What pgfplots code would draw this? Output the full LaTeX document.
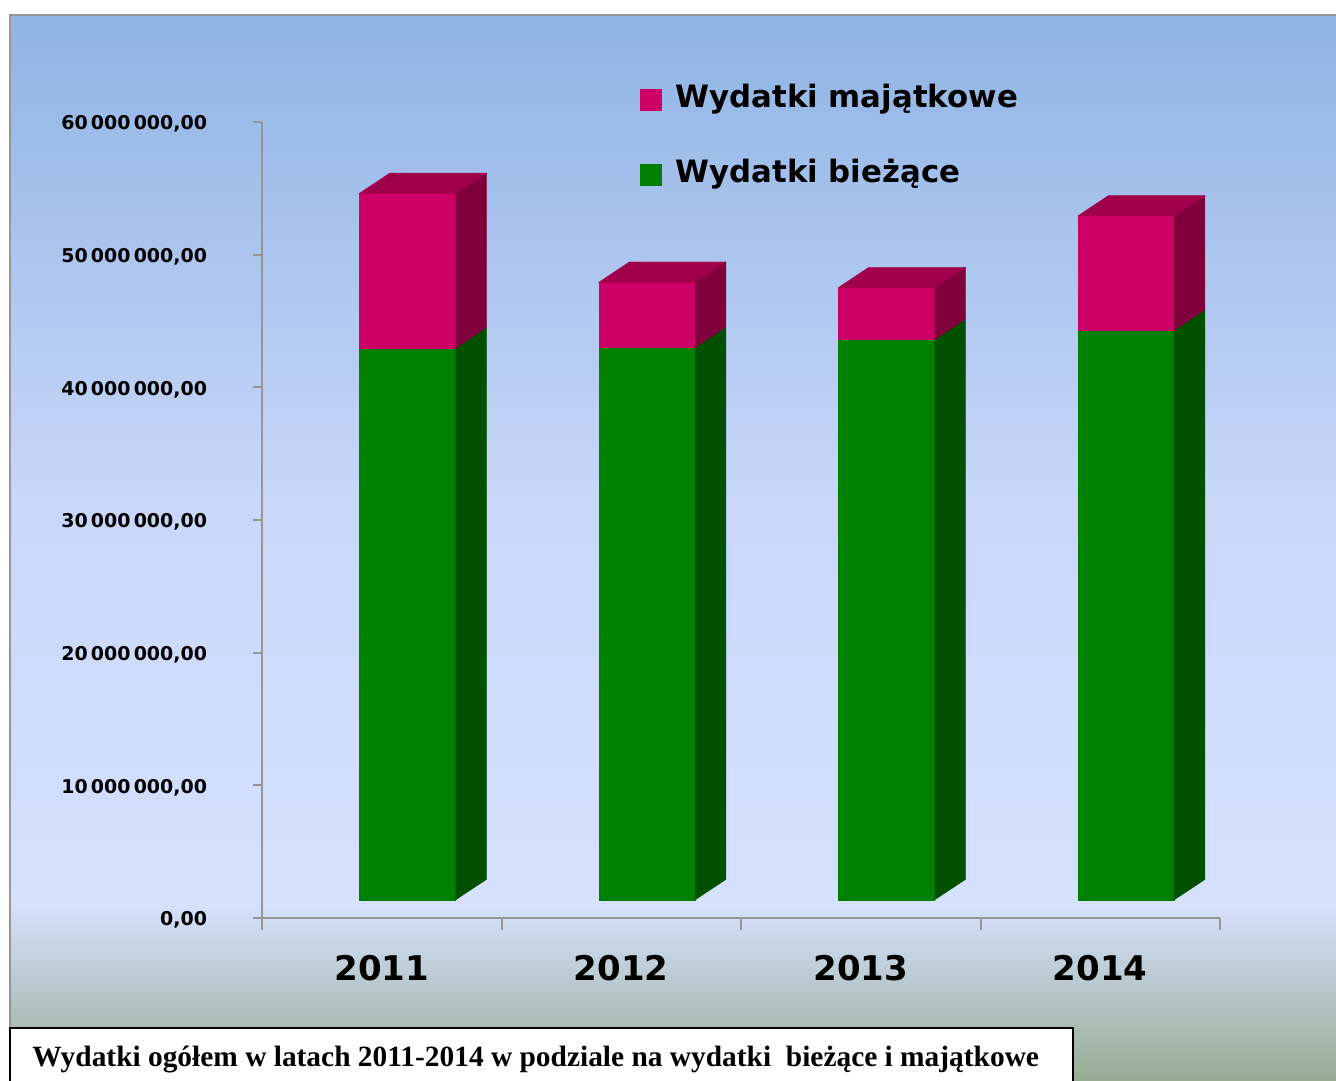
\documentclass[border=0pt]{standalone}
\usepackage{pgfplots}
\pgfplotsset{compat=1.18}
\usepackage{fontspec}
\setmainfont{DejaVu Sans}
\newfontfamily\capfont{Liberation Serif}

\definecolor{gfront}{RGB}{0,128,0}
\definecolor{gside}{RGB}{0,80,0}
\definecolor{mfront}{RGB}{204,0,102}
\definecolor{mside}{RGB}{128,0,60}
\definecolor{mtop}{RGB}{160,0,75}
\definecolor{bgA}{RGB}{143,180,227}
\definecolor{bgB}{RGB}{200,215,250}
\definecolor{bgC}{RGB}{214,225,254}
\definecolor{bgD}{RGB}{152,172,148}
\definecolor{axisgray}{RGB}{150,150,150}

% 3D bar geometry, axis units (y in millions)
\def\off{0.405}\def\bw{0.403}\def\dx{0.129}\def\dy{1.55}\def\base{1.36}

% #1 category index, #2 wydatki biezace, #3 total (both in mln)
\newcommand{\drawbar}[3]{%
  \pgfmathsetmacro\xl{#1+\off}%
  \pgfmathsetmacro\xr{#1+\off+\bw}%
  \pgfmathsetmacro\xs{#1+\off+\bw+\dx}%
  \pgfmathsetmacro\xt{#1+\off+\dx}%
  \pgfmathsetmacro\bd{\base+\dy}%
  \pgfmathsetmacro\gd{#2+\dy}%
  \pgfmathsetmacro\td{#3+\dy}%
  \edef\tmp{%
    \noexpand\addplot[forget plot, fill=gfront, draw=gfront, line width=0.2pt] coordinates {(\xl,\base) (\xr,\base) (\xr,#2) (\xl,#2)};
    \noexpand\addplot[forget plot, fill=gside, draw=gside, line width=0.2pt] coordinates {(\xr,\base) (\xs,\bd) (\xs,\gd) (\xr,#2)};
    \noexpand\addplot[forget plot, fill=mfront, draw=mfront, line width=0.2pt] coordinates {(\xl,#2) (\xr,#2) (\xr,#3) (\xl,#3)};
    \noexpand\addplot[forget plot, fill=mside, draw=mside, line width=0.2pt] coordinates {(\xr,#2) (\xs,\gd) (\xs,\td) (\xr,#3)};
    \noexpand\addplot[forget plot, fill=mtop, draw=mtop, line width=0.2pt] coordinates {(\xl,#3) (\xt,\td) (\xs,\td) (\xr,#3)};
  }\tmp}

\pgfplotsset{sqlegend/.style={legend image code/.code={\fill[##1] (0pt,-5.5pt) rectangle (11pt,5.5pt);}}}

\begin{document}
\begin{tikzpicture}
\useasboundingbox (0,0) rectangle (668pt,-540pt);
% background panel
\shade[top color=bgA, bottom color=bgB] (5pt,-7.5pt) rectangle (668pt,-250pt);
\shade[top color=bgB, bottom color=bgC] (5pt,-249.8pt) rectangle (668pt,-452pt);
\shade[top color=bgC, bottom color=bgD] (5pt,-451.8pt) rectangle (668pt,-540pt);
\draw[axisgray, line width=1pt] (5pt,-540pt) -- (5pt,-7.5pt) -- (668pt,-7.5pt);

\begin{axis}[
  at={(131pt,-459pt)}, anchor=south west,
  width=479pt, height=398pt, scale only axis,
  xmin=0, xmax=4, ymin=0, ymax=60,
  enlargelimits=false, clip=false,
  axis x line*=bottom, axis y line*=left,
  axis line style={axisgray, line width=1pt},
  tick align=outside,
  xtick={0,...,4}, x tick label as interval,
  xticklabels={2011,2012,2013,2014},
  xtick style={axisgray, line width=1pt, /pgfplots/major tick length=6pt},
  xticklabel style={font=\bfseries\fontsize{17}{20}\selectfont, anchor=base, yshift=-27pt},
  ytick={0,10,...,60},
  yticklabels={{0,00},{10\,000\,000,00},{20\,000\,000,00},{30\,000\,000,00},{40\,000\,000,00},{50\,000\,000,00},{60\,000\,000,00}},
  ytick style={axisgray, line width=1pt, /pgfplots/major tick length=4.5pt},
  yticklabel style={font=\bfseries\fontsize{9.5}{11}\selectfont, anchor=east, inner sep=0pt, xshift=-23pt, yshift=-1pt},
  legend style={draw=none, fill=none, at={(0.3946,1.0465)}, anchor=north west, inner sep=0pt,
    font=\bfseries\fontsize{15.4}{18}\selectfont, row sep=23pt,
    nodes={inner sep=0pt, text height=11pt, text depth=3.5pt},
    /tikz/every odd column/.append style={column sep=6.5pt}},
  legend cell align=left,
]
\addlegendimage{sqlegend, fill=mfront, draw=none}
\addlegendentry{Wydatki majątkowe}
\addlegendimage{sqlegend, fill=gfront, draw=none}
\addlegendentry{Wydatki bieżące}

\drawbar{0}{42.95}{54.6}
\drawbar{1}{43.0}{47.9}
\drawbar{2}{43.6}{47.5}
\drawbar{3}{44.3}{52.9}
\end{axis}

% caption box
\draw[black, line width=1pt, fill=white] (5pt,-514pt) rectangle (536.5pt,-545pt);
\node[anchor=base west, inner sep=0pt, font=\capfont\bfseries\fontsize{14.7}{17}\selectfont]
  at (16pt,-533pt) {Wydatki ogółem w latach 2011-2014 w podziale na wydatki \ bieżące i majątkowe};
\end{tikzpicture}
\end{document}
